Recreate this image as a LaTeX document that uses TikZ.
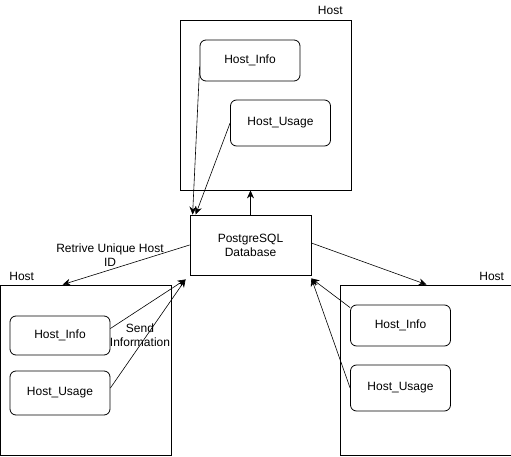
\documentclass[tikz,border=0pt]{standalone}
\usepackage{fontspec}
\setmainfont{Liberation Sans}
\usetikzlibrary{arrows.meta}

\begin{document}
\begin{tikzpicture}[x=1pt,y=-1pt,line width=0.8pt,font=\fontsize{12}{14}\selectfont,
    hostbox/.style={draw,minimum width=171pt,minimum height=170pt,inner sep=0pt},
    module/.style={draw,rounded corners=6pt,minimum width=100pt,inner sep=0pt},
    dbbox/.style={draw,minimum width=121pt,minimum height=60pt,align=center,inner sep=0pt},
    arr/.style={-{Stealth[length=8pt,width=7pt]},line width=0.6pt},
    txt/.style={align=center,inner sep=0pt}]

\useasboundingbox (0,0) rectangle (511,457);

% Host boxes
\node[hostbox] (thost) at (265.5,105) {};
\node[hostbox] (lhost) at (85.5,370) {};
\node[hostbox] (rhost) at (425.5,370) {};
\node[txt,anchor=east] (tlab) at (343,10) {Host};
\node[txt,anchor=west] (llab) at (9,276) {Host};
\node[txt,anchor=west] (rlab) at (479,276) {Host};

% Modules in the hosts
\node[module,minimum height=41pt] (tinfo) at (250,60.5) {Host\_Info};
\node[module,minimum height=46pt] (tusage) at (280.5,123) {Host\_Usage};
\node[module,minimum height=39pt] (linfo) at (60,335.5) {Host\_Info};
\node[module,minimum height=44pt] (lusage) at (60,393) {Host\_Usage};
\node[module,minimum height=41pt] (rinfo) at (400.5,325.5) {Host\_Info};
\node[module,minimum height=46pt] (rusage) at (400.5,388) {Host\_Usage};

% Database
\node[dbbox] (db) at (250.5,245) {PostgreSQL\\Database};

% Connectors
\draw[arr] (db.north) -- (db.north |- thost.south);
\draw[arr] ([yshift=-6pt]tinfo.west) -- ([xshift=3pt]db.north west);
\draw[arr] (tusage.west) -- ([xshift=6pt]db.north west);
\draw[arr] (db.west) -- ([xshift=63pt]lhost.north west);
\draw[arr] ([yshift=7pt]linfo.east) -- ([xshift=-4pt,yshift=-4pt]db.south west);
\draw[arr] ([yshift=5pt]lusage.east) -- ([xshift=-4pt,yshift=-4pt]db.south west);
\draw[arr] ([yshift=2pt]db.east) -- ([xshift=87pt]rhost.north west);
\draw[arr] ([yshift=-3pt]rinfo.north west) -- ([yshift=-3pt]db.south east);
\draw[arr] (rusage.west) -- ([yshift=-3pt]db.south east);

% Connector labels
\node[txt] (retrive) at (110,255) {Retrive Unique Host\\ID};
\node[txt] (send) at (140,335.5) {Send\\Information};

\end{tikzpicture}
\end{document}
